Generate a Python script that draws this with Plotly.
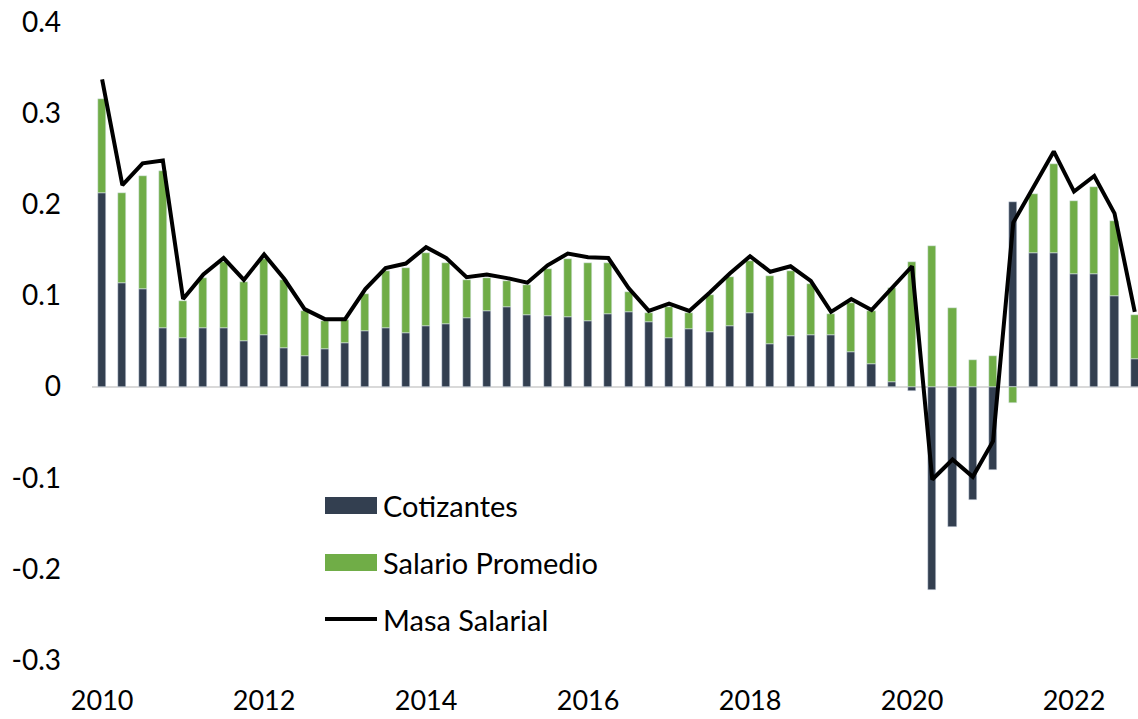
import plotly.graph_objects as go

# quarterly data, 2010 Q1 .. 2022 Q4
years = list(range(2010, 2023))
quarters = [f"{y}-T{q}" for y in years for q in range(1, 5)]

cotizantes = [
    0.212, 0.114, 0.107, 0.064, 0.053, 0.064, 0.064, 0.050,
    0.057, 0.042, 0.033, 0.041, 0.048, 0.061, 0.064, 0.059,
    0.066, 0.069, 0.075, 0.083, 0.087, 0.079, 0.077, 0.076,
    0.072, 0.080, 0.082, 0.071, 0.053, 0.063, 0.060, 0.066,
    0.081, 0.047, 0.056, 0.057, 0.057, 0.038, 0.025, 0.005,
    -0.005, -0.223, -0.154, -0.124, -0.091, 0.202, 0.147, 0.147,
    0.123, 0.123, 0.099, 0.030,
]
salario_promedio = [
    0.103, 0.098, 0.124, 0.173, 0.041, 0.055, 0.073, 0.065,
    0.083, 0.075, 0.050, 0.031, 0.025, 0.041, 0.063, 0.071,
    0.081, 0.067, 0.042, 0.036, 0.029, 0.032, 0.052, 0.064,
    0.064, 0.056, 0.022, 0.010, 0.034, 0.018, 0.041, 0.054,
    0.057, 0.074, 0.071, 0.055, 0.023, 0.054, 0.058, 0.103,
    0.137, 0.154, 0.086, 0.029, 0.034, -0.018, 0.064, 0.097,
    0.081, 0.096, 0.083, 0.048,
]
masa_salarial = [
    0.337, 0.221, 0.245, 0.248, 0.096, 0.123, 0.141, 0.117,
    0.145, 0.118, 0.085, 0.074, 0.074, 0.107, 0.130, 0.135,
    0.153, 0.141, 0.120, 0.123, 0.119, 0.114, 0.133, 0.146,
    0.142, 0.141, 0.108, 0.083, 0.091, 0.083, 0.103, 0.124,
    0.143, 0.126, 0.132, 0.116, 0.082, 0.096, 0.084, 0.108,
    0.132, -0.102, -0.080, -0.099, -0.060, 0.180, 0.219, 0.258,
    0.214, 0.231, 0.190, 0.082,
]

y_ticks = [-0.3, -0.2, -0.1, 0, 0.1, 0.2, 0.3, 0.4]
y_labels = ["-0.3", "-0.2", "-0.1", "0", "0.1", "0.2", "0.3", "0.4"]

NAVY = "#333F50"
GREEN = "#70AD47"
FONT = "Lato, 'Open Sans', sans-serif"

x = list(range(len(quarters)))

fig = go.Figure()
fig.add_trace(go.Bar(x=x, y=cotizantes, name="Cotizantes", marker_color=NAVY,
                     width=0.4, showlegend=False, customdata=quarters))
fig.add_trace(go.Bar(x=x, y=salario_promedio, name="Salario Promedio", marker_color=GREEN,
                     width=0.4, showlegend=False, customdata=quarters))
fig.add_trace(go.Scatter(x=x, y=masa_salarial, name="Masa Salarial", mode="lines",
                         line=dict(color="black", width=4), showlegend=False))

# manual legend, positioned in pixel terms of the plot area
L, R, T, B = 92, 1138, 22, 660
def px(xp):
    return (xp - L) / (R - L)
def py(yp):
    return (B - yp) / (B - T)

legend_rows = [("Cotizantes", NAVY, "box", 505.5),
               ("Salario Promedio", GREEN, "box", 562.5),
               ("Masa Salarial", "black", "line", 619)]
for label, color, kind, yc in legend_rows:
    if kind == "box":
        fig.add_shape(type="rect", xref="paper", yref="paper",
                      x0=px(325), x1=px(377), y0=py(yc + 8.5), y1=py(yc - 8.5),
                      fillcolor=color, line_width=0)
    else:
        fig.add_shape(type="line", xref="paper", yref="paper",
                      x0=px(325), x1=px(377), y0=py(yc), y1=py(yc),
                      line=dict(color=color, width=4))
    fig.add_annotation(text=label, xref="paper", yref="paper", x=px(381), y=py(yc),
                       xanchor="left", yanchor="middle", showarrow=False,
                       font=dict(family=FONT, size=29, color="black"))

fig.update_layout(
    width=1138, height=719,
    barmode="relative",
    bargap=0,
    plot_bgcolor="white", paper_bgcolor="white",
    margin=dict(l=L, r=1138 - R, t=T, b=719 - B, autoexpand=False),
    font=dict(family=FONT, color="black"),
)
fig.update_xaxes(
    range=[-0.5, 51.16],
    tickmode="array",
    tickvals=[i * 8 for i in range(7)],
    ticktext=[str(y) for y in years[::2]],
    showgrid=False, zeroline=False, showline=False,
    ticks="", ticklabelstandoff=22,
    tickfont=dict(family=FONT, size=27, color="black"),
)
fig.update_yaxes(
    range=[-0.3, 0.4],
    tickmode="array", tickvals=y_ticks, ticktext=y_labels,
    showgrid=False, showline=False,
    zeroline=True, zerolinecolor="#D9D9D9", zerolinewidth=2,
    ticks="", ticklabelstandoff=30,
    tickfont=dict(family=FONT, size=28, color="black"),
)

fig.write_html("out.html", config={"displayModeBar": False},
               post_script="document.body.style.margin='0';")
